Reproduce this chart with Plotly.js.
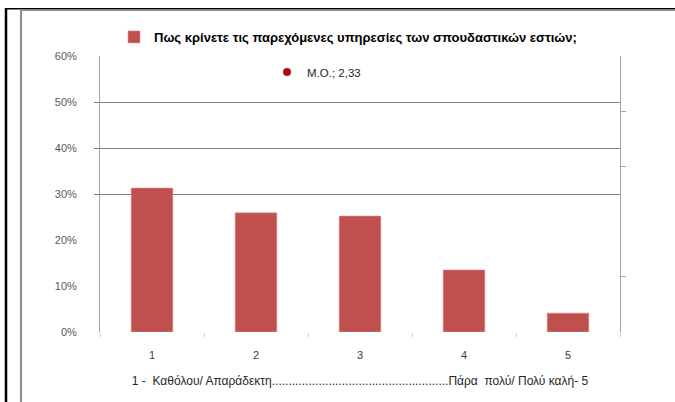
<!DOCTYPE html>
<html>
<head>
<meta charset="utf-8">
<script src="https://cdn.plot.ly/plotly-3.0.1.min.js"></script>
<style>html,body{margin:0;padding:0;background:#fff;}#chart{width:675px;height:402px;}</style>
</head>
<body>
<div id="chart"></div>
<script>
// ---- data ----
const categories = ['1', '2', '3', '4', '5'];
const shares = [0.313, 0.259, 0.252, 0.135, 0.041];
const seriesName = 'Πως κρίνετε τις παρεχόμενες υπηρεσίες των σπουδαστικών εστιών;';
const meanValue = [2.33];
const meanLabel = 'M.O.; 2,33';
const yTickVals = [0, 0.1, 0.2, 0.3, 0.4, 0.5, 0.6];
const gridVals = [0.3, 0.4, 0.5];
const rightTickVals = [1, 3, 4];
const xTitle = '1 -  Καθόλου/ Απαράδεκτη.....................................................Πάρα  πολύ/ Πολύ καλή- 5';

const FONT = 'Liberation Sans, Arial, sans-serif';

const traces = [
  {
    type: 'bar', x: categories, y: shares, name: seriesName,
    marker: {color: '#C0504D', line: {color: '#D99391', width: 0.6}},
    legend: 'legend', hoverinfo: 'skip'
  },
  {
    type: 'scatter', mode: 'markers', x: meanValue, y: [null], name: meanLabel,
    xaxis: 'x2', yaxis: 'y2', legend: 'legend2',
    marker: {color: '#C00000', size: 8, line: {color: '#6F86B8', width: 0.5}},
    hoverinfo: 'skip'
  }
];

// frame coordinates in paper units (plot area: x 100..620, y 56..332)
const px = v => (v - 100) / 520;
const py = v => (332 - v) / 276;

const layout = {
  width: 675, height: 402,
  margin: {l: 100, r: 55, t: 56, b: 70},
  paper_bgcolor: '#fff', plot_bgcolor: 'rgba(0,0,0,0)',
  font: {family: FONT, size: 11, color: '#595959'},
  bargap: 0.6,
  showlegend: true,
  xaxis: {
    type: 'category', showgrid: false, showline: false, zeroline: false,
    ticks: 'outside', tickson: 'boundaries', ticklen: 4, tickcolor: '#d0d0d0',
    tickfont: {family: FONT, size: 11, color: '#404040'},
    ticklabelstandoff: 15,
    title: {text: xTitle, font: {family: FONT, size: 12, color: '#262626'}, standoff: 16}
  },
  xaxis2: {overlaying: 'x', visible: false, range: [0.5, 5.5]},
  yaxis: {
    range: [0, 0.6], tickvals: yTickVals, tickformat: '.0%',
    showgrid: false, zeroline: false, showline: true, linecolor: '#a6a6a6', linewidth: 1,
    ticks: '', ticklabelstandoff: 20,
    tickfont: {family: FONT, size: 11, color: '#595959'}
  },
  yaxis3: {
    overlaying: 'y', range: [0, 0.6], tickvals: gridVals, showticklabels: false,
    showgrid: true, gridcolor: '#808080', gridwidth: 1, zeroline: false,
    ticks: 'outside', ticklen: 5, tickcolor: '#808080', side: 'left'
  },
  yaxis2: {
    overlaying: 'y', side: 'right', range: [0, 5], tickvals: rightTickVals,
    showticklabels: false, showgrid: false, zeroline: false,
    showline: true, linecolor: '#a6a6a6', linewidth: 1,
    ticks: 'outside', ticklen: 5, tickcolor: '#a6a6a6'
  },
  legend: {
    x: px(114), y: py(37), xanchor: 'left', yanchor: 'middle',
    orientation: 'h', bgcolor: 'rgba(0,0,0,0)',
    font: {family: FONT, size: 13, color: '#000', weight: 'bold'}
  },
  legend2: {
    x: px(267), y: py(72), xanchor: 'left', yanchor: 'middle',
    orientation: 'h', bgcolor: 'rgba(0,0,0,0)',
    font: {family: FONT, size: 11.5, color: '#262626'}
  },
  shapes: [
    {type: 'line', xref: 'paper', yref: 'paper', x0: px(6), x1: px(6), y0: py(8), y1: py(402), line: {color: '#000', width: 2.5}},
    {type: 'line', xref: 'paper', yref: 'paper', x0: px(5), x1: px(675), y0: py(8.7), y1: py(8.7), line: {color: '#000', width: 1.5}},
    {type: 'line', xref: 'paper', yref: 'paper', x0: px(21), x1: px(21), y0: py(10), y1: py(402), line: {color: '#8c8c8c', width: 2}},
    {type: 'line', xref: 'paper', yref: 'paper', x0: px(20), x1: px(675), y0: py(10.3), y1: py(10.3), line: {color: '#8c8c8c', width: 1.5}}
  ]
};

// attach the grid-only axis
traces.push({type: 'scatter', x: [], y: [], yaxis: 'y3', showlegend: false, hoverinfo: 'skip'});

Plotly.newPlot('chart', traces, layout, {displayModeBar: false, staticPlot: true});
</script>
</body>
</html>
